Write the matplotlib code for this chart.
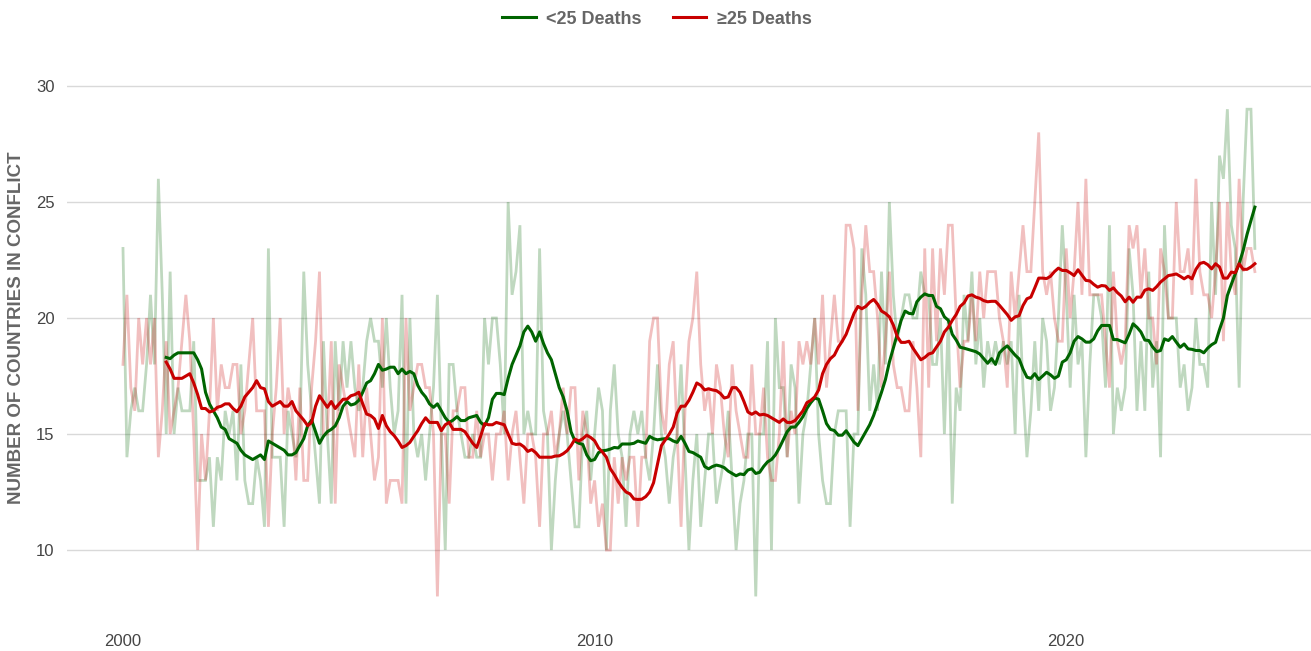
import numpy as np
import matplotlib
matplotlib.use("Agg")
import matplotlib.pyplot as plt

plt.rcParams['font.family'] = ['Liberation Sans', 'DejaVu Sans']

# monthly counts of countries in conflict, Jan 2000 - Jan 2024
under25 = [23, 14, 16, 17, 16, 16, 18, 21, 18, 26, 21, 15, 22, 15, 17, 16, 16, 16, 19, 13,
           13, 13, 14, 11, 14, 13, 16, 15, 16, 13, 18, 13, 12, 12, 14, 13, 11, 23,
           14, 14, 14, 11, 16, 15, 14, 15, 22, 18, 16, 14, 12, 19, 15, 12, 19, 16, 19, 17,
           19, 17, 16, 17, 19, 20, 19, 19, 17, 20, 17, 15, 16, 21, 12, 20, 15, 14,
           15, 13, 15, 17, 21, 15, 10, 18, 18, 16, 15, 14, 14, 15, 14, 14, 20, 18, 20, 20,
           18, 15, 25, 21, 22, 24, 15, 16, 15, 15, 23, 16, 15, 10, 13, 15, 16, 15,
           13, 11, 11, 15, 16, 13, 15, 17, 16, 10, 16, 18, 15, 14, 11, 15, 16, 15, 16, 14,
           13, 15, 18, 15, 14, 12, 14, 15, 18, 14, 10, 13, 15, 11, 13, 15, 15, 12,
           13, 14, 16, 13, 10, 12, 13, 15, 15, 8, 15, 15, 19, 10, 20, 17, 17, 14, 18, 17,
           12, 15, 16, 18, 20, 15, 13, 12, 12, 15, 16, 16, 16, 11, 15, 15, 23, 21, 16,
           18, 16, 22, 18, 25, 21, 19, 20, 21, 21, 20, 20, 22, 21, 21, 18, 18, 20, 15, 20,
           12, 17, 16, 21, 19, 22, 18, 20, 17, 19, 18, 19, 18, 19, 18, 19, 15, 21,
           17, 14, 16, 19, 16, 20, 19, 16, 17, 20, 24, 21, 17, 21, 18, 19, 14, 18, 21, 21,
           20, 17, 24, 15, 17, 16, 17, 23, 21, 16, 19, 16, 22, 17, 19, 14, 24, 20,
           20, 20, 17, 18, 16, 17, 20, 18, 18, 17, 25, 21, 27, 26, 29, 24, 23, 17, 25, 29,
           29, 23]

over25 = [18, 21, 17, 16, 20, 18, 20, 18, 20, 14, 16, 19, 15, 16, 17, 19, 21, 19, 15, 10,
          15, 13, 16, 20, 16, 18, 17, 17, 18, 18, 15, 16, 18, 20, 16, 16, 16, 11,
          15, 17, 20, 15, 17, 16, 13, 17, 13, 13, 17, 19, 22, 15, 15, 19, 12, 18, 17, 16,
          15, 14, 18, 14, 17, 15, 13, 14, 20, 12, 13, 13, 13, 12, 20, 16, 17, 18,
          18, 17, 17, 15, 8, 15, 15, 12, 16, 16, 17, 17, 14, 14, 16, 14, 15, 15, 13, 15,
          15, 16, 13, 15, 16, 14, 12, 15, 15, 14, 11, 15, 15, 16, 14, 15, 17, 15,
          17, 17, 13, 16, 15, 12, 13, 11, 12, 10, 10, 14, 12, 14, 13, 14, 14, 11, 14, 14,
          19, 20, 20, 16, 15, 18, 19, 15, 11, 16, 19, 20, 22, 18, 16, 17, 15, 18,
          17, 15, 14, 18, 16, 15, 14, 14, 18, 15, 15, 17, 14, 13, 13, 15, 19, 14, 16, 15,
          19, 18, 19, 18, 20, 18, 21, 17, 19, 21, 19, 19, 24, 24, 23, 16, 21, 24, 22,
          22, 20, 17, 19, 22, 18, 17, 17, 16, 16, 19, 17, 14, 23, 17, 23, 19, 23, 21, 24,
          24, 20, 17, 19, 19, 21, 19, 22, 20, 22, 22, 22, 20, 19, 17, 22, 20, 22,
          24, 22, 22, 25, 28, 22, 21, 22, 20, 19, 19, 23, 20, 22, 25, 21, 26, 21, 21, 21,
          21, 19, 17, 22, 19, 18, 19, 24, 23, 24, 21, 23, 20, 20, 18, 23, 22, 20,
          20, 25, 22, 22, 23, 21, 26, 22, 21, 21, 20, 22, 25, 19, 25, 22, 21, 26, 22, 23,
          23, 22]

# 12-month means, Dec 2000 - Jan 2024
under25_trend = [18.3, 18.25, 18.4, 18.5, 18.5, 18.5, 18.5, 18.5, 18.2, 17.8, 16.8, 16.3,
                 16.0, 15.7, 15.3, 15.2, 14.8, 14.7, 14.6, 14.3, 14.1, 14.0, 13.9, 14.0,
                 14.1, 13.9, 14.7,
                 14.6, 14.5, 14.4, 14.3, 14.1, 14.1, 14.2, 14.5, 14.8, 15.36, 15.6, 15.1,
                 14.6, 14.9, 15.1, 15.2, 15.35, 15.7, 16.2, 16.4, 16.25, 16.3, 16.45, 16.8,
                 17.2, 17.3, 17.6, 18.0, 17.75, 17.8, 17.88, 17.88, 17.6, 17.8, 17.6, 17.7,
                 17.6, 17.1,
                 16.8, 16.6, 16.3, 16.15, 16.3, 16.0, 15.7, 15.5, 15.6, 15.75, 15.58, 15.58,
                 15.7, 15.75, 15.8, 15.5, 15.36, 15.7, 16.5, 16.75, 16.75, 16.7, 17.4, 18.0,
                 18.4, 18.8, 19.4, 19.65, 19.4, 19.0, 19.4, 18.9, 18.5, 18.2, 17.6, 17.0,
                 16.6, 16.0,
                 15.1, 14.7, 14.6, 14.55, 14.1, 13.85, 13.9, 14.2, 14.28, 14.3, 14.35, 14.42,
                 14.4, 14.57, 14.57, 14.57, 14.6, 14.7, 14.65, 14.6, 14.9, 14.8, 14.75, 14.78,
                 14.8, 14.8, 14.7, 14.64, 14.9, 14.6, 14.25, 14.2, 14.1, 14.0, 13.6, 13.5,
                 13.6, 13.66,
                 13.62, 13.55, 13.4, 13.3, 13.2, 13.28, 13.25, 13.45, 13.5, 13.3, 13.35, 13.6,
                 13.8, 13.9, 14.1, 14.4, 14.75, 15.1, 15.3, 15.3, 15.5, 15.75, 16.1, 16.35,
                 16.55, 16.5, 16.0, 15.45, 15.2, 15.15, 14.95, 14.95, 15.14, 14.9, 14.65, 14.5,
                 14.8, 15.1, 15.4,
                 15.8, 16.3, 16.8, 17.35, 18.1, 18.7, 19.3, 19.9, 20.3, 20.2, 20.18, 20.7,
                 20.9, 21.04, 20.97, 20.97, 20.5, 20.4, 20.05, 19.9, 19.3, 19.05, 18.74, 18.7,
                 18.65, 18.6, 18.55, 18.45, 18.25, 18.05, 18.25, 18.0, 18.5, 18.67, 18.8, 18.6,
                 18.4, 18.24,
                 17.8, 17.45, 17.4, 17.6, 17.35, 17.5, 17.66, 17.55, 17.4, 17.5, 18.1, 18.2,
                 18.5, 19.0, 19.2, 19.1, 18.96, 18.96, 19.1, 19.45, 19.68, 19.68, 19.68, 19.07,
                 19.07, 19.0, 18.93, 19.3, 19.75, 19.6, 19.4, 19.05, 19.03, 18.75, 18.55, 18.6,
                 19.1, 19.03,
                 19.2, 18.96, 18.74, 18.88, 18.67, 18.65, 18.6, 18.6, 18.5, 18.7, 18.85, 18.95,
                 19.5, 20.0, 20.97, 21.45, 21.9, 22.35, 22.9, 23.6, 24.2, 24.78]

over25_trend = [18.1, 17.8, 17.4, 17.4, 17.4, 17.5, 17.6, 17.2, 16.7, 16.1, 16.1, 15.95,
                16.0, 16.15, 16.2, 16.3, 16.3, 16.1, 15.96, 16.2, 16.6, 16.8, 17.0, 17.3,
                17.0, 16.95, 16.4,
                16.2, 16.3, 16.4, 16.2, 16.2, 16.4, 16.0, 15.8, 15.6, 15.36, 15.5, 16.2,
                16.65, 16.4, 16.15, 16.4, 16.1, 16.3, 16.5, 16.5, 16.65, 16.7, 16.8, 16.3,
                15.86, 15.8, 15.65, 15.24, 15.8, 15.36, 15.1, 14.93, 14.7, 14.42, 14.5, 14.64,
                14.9, 15.14,
                15.45, 15.7, 15.5, 15.5, 15.5, 15.14, 15.4, 15.5, 15.2, 15.2, 15.2, 15.1,
                14.85, 14.6, 14.42, 14.9, 15.45, 15.4, 15.4, 15.5, 15.45, 15.4, 15.0, 14.6,
                14.55, 14.57, 14.45, 14.25, 14.33, 14.2, 14.0, 14.0, 14.0, 14.0, 14.05, 14.06,
                14.15, 14.28,
                14.5, 14.78, 14.7, 14.8, 14.95, 14.85, 14.71, 14.4, 14.22, 14.0, 13.5, 13.25,
                12.95, 12.7, 12.5, 12.42, 12.2, 12.18, 12.19, 12.3, 12.5, 12.9, 13.7, 14.5,
                14.75, 15.0, 15.3, 15.9, 16.2, 16.2, 16.45, 16.8, 17.2, 17.1, 16.9, 16.95,
                16.9, 16.87,
                16.75, 16.55, 16.6, 17.0, 17.0, 16.8, 16.4, 15.95, 15.85, 15.95, 15.82, 15.85,
                15.8, 15.7, 15.6, 15.5, 15.65, 15.5, 15.5, 15.58, 15.78, 16.0, 16.35, 16.45,
                16.6, 16.9, 17.6, 18.0, 18.25, 18.4, 18.74, 19.0, 19.3, 19.75, 20.2, 20.5,
                20.4, 20.5, 20.68,
                20.8, 20.6, 20.3, 20.2, 20.05, 19.7, 19.2, 18.95, 18.95, 19.0, 18.7, 18.45,
                18.2, 18.3, 18.45, 18.5, 18.75, 19.0, 19.4, 19.6, 19.9, 20.15, 20.5, 20.65,
                20.95, 21.0, 20.9, 20.85, 20.75, 20.7, 20.72, 20.72, 20.55, 20.35, 20.15, 19.9,
                20.05, 20.1,
                20.54, 20.83, 20.9, 21.3, 21.72, 21.72, 21.7, 21.8, 22.0, 22.15, 22.05, 22.05,
                21.95, 21.83, 22.08, 21.85, 21.62, 21.6, 21.45, 21.33, 21.4, 21.38, 21.19, 21.3,
                21.1, 20.95, 20.7, 20.9, 20.68, 20.9, 20.9, 21.2, 21.26, 21.19, 21.35, 21.55,
                21.69, 21.83,
                21.86, 21.9, 21.8, 21.69, 21.8, 21.69, 22.1, 22.35, 22.4, 22.3, 22.12, 22.34,
                22.2, 21.72, 21.72, 21.98, 21.95, 22.34, 22.1, 22.1, 22.2, 22.34]

year_ticks = [2000, 2010, 2020]
y_ticks = [10, 15, 20, 25, 30]

green = "#006400"
red = "#c80000"
grey_text = "#666666"

t = 2000 + np.arange(len(under25)) / 12.0
t_trend = t[len(t) - len(under25_trend):]

fig = plt.figure(figsize=(13.11, 6.51), dpi=100)
ax = fig.add_axes([0.051, 0.0482, 0.949, 0.8553])

ax.plot(t, under25, color=green, alpha=0.25, lw=2.0, solid_joinstyle="miter")
ax.plot(t, over25, color=red, alpha=0.25, lw=2.0, solid_joinstyle="miter")
ax.plot(t_trend, under25_trend, color=green, lw=2.2, label="<25 Deaths")
ax.plot(t_trend, over25_trend, color=red, lw=2.2, label="\u226525 Deaths")

ax.set_xlim(1998.81, 2025.19)
ax.set_ylim(7, 31)
ax.set_xticks(year_ticks)
ax.set_xticklabels([str(y) for y in year_ticks])
ax.set_yticks(y_ticks)

for s in ax.spines.values():
    s.set_visible(False)
ax.grid(axis="y", color="#d9d9d9", lw=1.0)
ax.set_axisbelow(True)
ax.tick_params(axis="both", length=0, labelsize=12, labelcolor="#444444")
ax.tick_params(axis="y", pad=9)
ax.tick_params(axis="x", pad=10)

# axis title placed in figure coords so it stays inside the canvas
fig.text(17 / 1311, 1 - 328 / 651, "NUMBER OF COUNTRIES IN CONFLICT", rotation=90,
         ha="center", va="center", fontsize=13.5, fontweight="bold", color=grey_text)

fig.legend(loc="center", bbox_to_anchor=(657 / 1311, 1 - 19 / 651), ncol=2,
           frameon=False, handlelength=1.85, columnspacing=1.7, handletextpad=0.6,
           prop={"weight": "bold", "size": 13}, labelcolor=grey_text)

fig.savefig("out.png", dpi=100)
